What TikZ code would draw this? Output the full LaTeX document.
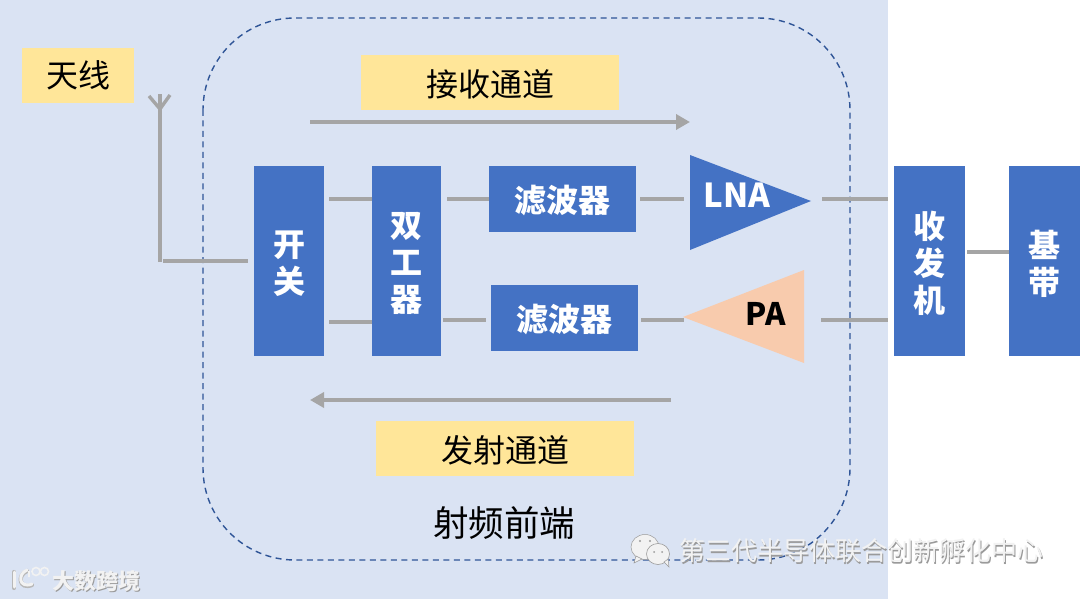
\documentclass[tikz,border=0pt]{standalone}
\usepackage{fontspec}
\setmainfont{Noto Sans CJK SC}
\definecolor{bgblue}{HTML}{DAE3F3}
\definecolor{boxblue}{HTML}{4472C4}
\definecolor{dashblue}{HTML}{2F5597}
\definecolor{tagyellow}{HTML}{FFE699}
\definecolor{linegray}{HTML}{A5A5A5}
\definecolor{peach}{HTML}{F8CBAD}
\definecolor{wmshadow}{HTML}{9A9A9A}
\definecolor{wmface}{HTML}{F2F2F2}
\newcommand{\dn}[2]{\raisebox{-#1pt}[\height][\depth]{#2}}
\tikzset{
  x=1pt,y=-1pt,
  tag/.style={fill=tagyellow,inner sep=0pt,font=\fontsize{32}{32}\selectfont,text=black},
  block/.style={fill=boxblue,inner sep=0pt,text=white,font=\fontsize{32}{37}\selectfont\bfseries,align=center},
  wire/.style={draw=linegray,line width=4pt},
  flow/.style={draw=linegray,line width=4pt,-{Triangle[length=14pt,width=15pt]}},
}
\usetikzlibrary{arrows.meta}
\begin{document}
\begin{tikzpicture}
\useasboundingbox (0,0) rectangle (1080,599);
\fill[bgblue] (0,0) rectangle (888,599);
\draw[dashblue,line width=1.4pt,dash pattern=on 6pt off 4.5pt,rounded corners=92pt] (203,18) rectangle (850,560);

\node[tag,minimum width=112pt,minimum height=55pt] (tianxian) at (78,75.5) {天线};
\node[tag,minimum width=258pt,minimum height=55pt] (rxtag) at (490,82.5) {\dn{2}{接收通道}};
\node[tag,minimum width=258pt,minimum height=55pt] (txtag) at (505,448.5) {\dn{1.5}{发射通道}};
\node[font=\fontsize{35.5}{36}\selectfont,inner sep=0pt] (rffe) at (504,522.5) {射频前端};

\node[block,minimum width=70pt,minimum height=190pt] (switch) at (289,261) {\dn{2.5}{开}\\\dn{2.5}{关}};
\node[block,minimum width=69pt,minimum height=190pt] (duplexer) at (406.5,261) {\dn{2.5}{双}\\\dn{2.5}{工}\\\dn{2.5}{器}};
\node[block,minimum width=147pt,minimum height=66pt] (filterA) at (562.5,199) {\dn{1.5}{滤波器}};
\node[block,minimum width=147pt,minimum height=66pt] (filterB) at (564.5,318) {\dn{1.5}{滤波器}};
\node[block,minimum width=71pt,minimum height=190pt] (trx) at (929.5,261) {\dn{2.5}{收}\\\dn{2.5}{发}\\\dn{2.5}{机}};
\node[block,minimum width=71pt,minimum height=190pt] (baseband) at (1044.5,261) {\dn{2.5}{基}\\\dn{2.5}{带}};

\fill[boxblue] (690,155) -- (811,201) -- (690,250) -- cycle;
\fill[peach] (683,317) -- (804,270) -- (804,363) -- cycle;
\node[text=white,font=\fontsize{33}{33}\selectfont\bfseries,inner sep=0pt] (lna) at (737,195) {LNA};
\node[text=black,font=\fontsize{31}{31}\selectfont\bfseries,inner sep=0pt] (pa) at (765.5,314) {PA};

% connector end points
\coordinate (rxS) at (310,122); \coordinate (rxE) at (690,122);
\coordinate (txS) at (671,400); \coordinate (txE) at (310,400);
\coordinate (antTop) at (160,94);
\coordinate (antFoot) at (160,262);
\coordinate (antL) at (149,96);
\coordinate (antR) at (170,95);
\coordinate (antMid) at (160,109);
\coordinate (feedS) at (163,261);
\coordinate (feedE) at (248,261);
\coordinate (lnaIn) at (684,199); \coordinate (lnaOut) at (822,199);
\coordinate (paIn) at (821,320); \coordinate (paOut) at (684,320);

\path[wire] (antFoot) -- (antTop);
\path[draw=linegray,line width=3.4pt] (antL) -- (antMid) -- (antR);
\path[wire] (feedS) -- (feedE);
\path[wire] ([xshift=5pt]switch.east |- 0,199) -- (duplexer.west |- 0,199);
\path[wire] ([xshift=5pt]switch.east |- 0,322) -- (duplexer.west |- 0,322);
\path[wire] ([xshift=6pt]duplexer.east |- 0,199) -- (filterA.west |- 0,199);
\path[wire] ([xshift=2pt]duplexer.east |- 0,320) -- ([xshift=-5pt]filterB.west |- 0,320);
\path[wire] ([xshift=4pt]filterA.east |- 0,199) -- (lnaIn);
\path[wire] ([xshift=3pt]filterB.east |- 0,320) -- (paOut);
\path[wire] (lnaOut) -- ([xshift=-6pt]trx.west |- 0,199);
\path[wire] (paIn) -- ([xshift=-6pt]trx.west |- 0,320);
\path[wire] ([xshift=2pt]trx.east |- 0,252) -- (baseband.west |- 0,252);
\path[flow] (rxS) -- (rxE);
\path[flow] (txS) -- (txE);

% watermark: WeChat mark
\fill[wmface,draw=wmshadow,line width=.5pt] (645,547) ellipse (14pt and 12.5pt);
\fill[wmface,draw=wmshadow,line width=.5pt] (636,556) -- (634,563) -- (642,559) -- cycle;
\fill[wmface,draw=wmshadow,line width=.6pt] (658,554) ellipse (11.5pt and 10.5pt);
\fill[wmface,draw=wmshadow,line width=.5pt] (664,562) -- (669,567) -- (668,559) -- cycle;
\fill[wmshadow] (640,541) circle (1.1pt) (650,541) circle (1.1pt) (654,552) circle (1pt) (662,552) circle (1pt);
\node[text=wmshadow,font=\fontsize{26}{26}\selectfont,inner sep=0pt,anchor=west] (wmBshadow) at (680,552.5) {第三代半导体联合创新孵化中心};
\node[text=wmface,font=\fontsize{26}{26}\selectfont,inner sep=0pt,anchor=west] (wmB) at (679,551) {第三代半导体联合创新孵化中心};

% watermark: lower left
\draw[wmshadow!70,line width=4.2pt,line cap=round] (14,572) -- (14,588);
\draw[wmshadow!70,line width=4.2pt,line cap=round] (27,571) .. controls (17,575) and (19,590) .. (32,585);
\draw[wmface,line width=3pt,line cap=round] (14,572) -- (14,587);
\draw[wmface,line width=3pt,line cap=round] (27,570) .. controls (17,574) and (19,589) .. (32,584);
\draw[wmface,line width=1.6pt] (29,571) -- (29,577) (36,571.5) circle (4pt) (44.5,571.5) circle (4pt);
\node[text=wmshadow,font=\fontsize{22}{22}\selectfont\bfseries,inner sep=0pt,anchor=west] (wmAshadow) at (52.8,581.8) {大数跨境};
\node[text=wmface,font=\fontsize{22}{22}\selectfont\bfseries,inner sep=0pt,anchor=west] (wmA) at (52,581) {大数跨境};
\end{tikzpicture}
\end{document}
